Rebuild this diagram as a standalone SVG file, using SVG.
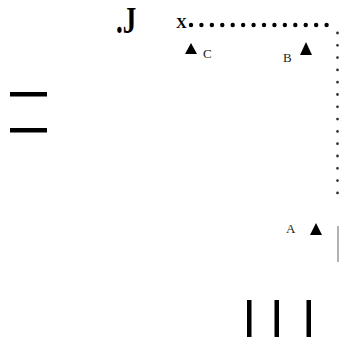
<svg xmlns="http://www.w3.org/2000/svg" width="339" height="339" viewBox="0 0 339 339">
<style>
.lbl{font-family:"Liberation Serif","Times New Roman",serif;fill:#222;font-size:13px}
.tri{fill:#000}
.bar{fill:#000}
</style>
<rect width="339" height="339" fill="#fff"/>
<g id="connectors">
<path d="M191 25H337" fill="none" stroke="#000" stroke-width="4.4" stroke-linecap="round" stroke-dasharray="0 10.43"/>
<path d="M337.5 33V193" fill="none" stroke="#333" stroke-width="2.8" stroke-linecap="round" stroke-dasharray="0 12.3"/>
<line x1="338" y1="226" x2="338" y2="262" stroke="#999" stroke-width="1.5"/>
</g>
<g id="J"><text transform="translate(116,33) scale(0.75,1.05)" font-family="Liberation Serif, serif" font-weight="bold" font-size="36">.J</text></g>
<g id="X"><text x="176" y="27.5" font-family="Liberation Serif, serif" font-weight="bold" font-size="15">X</text></g>
<g id="C"><polygon class="tri" points="191,43 185,54 197,54"/><text class="lbl" x="203" y="58">C</text></g>
<g id="B"><polygon class="tri" points="306,42 300,55 312,55"/><text class="lbl" x="283" y="62">B</text></g>
<g id="A"><polygon class="tri" points="316,223 310,235 322,235"/><text class="lbl" x="286" y="233">A</text></g>
<g id="equals"><rect class="bar" x="10" y="92" width="37" height="4.5"/><rect class="bar" x="10" y="128" width="37" height="4.5"/></g>
<g id="bars"><rect class="bar" x="247" y="300" width="4.5" height="37"/><rect class="bar" x="274.5" y="300" width="4.5" height="37"/><rect class="bar" x="306.5" y="300" width="4.5" height="37"/></g>
</svg>
